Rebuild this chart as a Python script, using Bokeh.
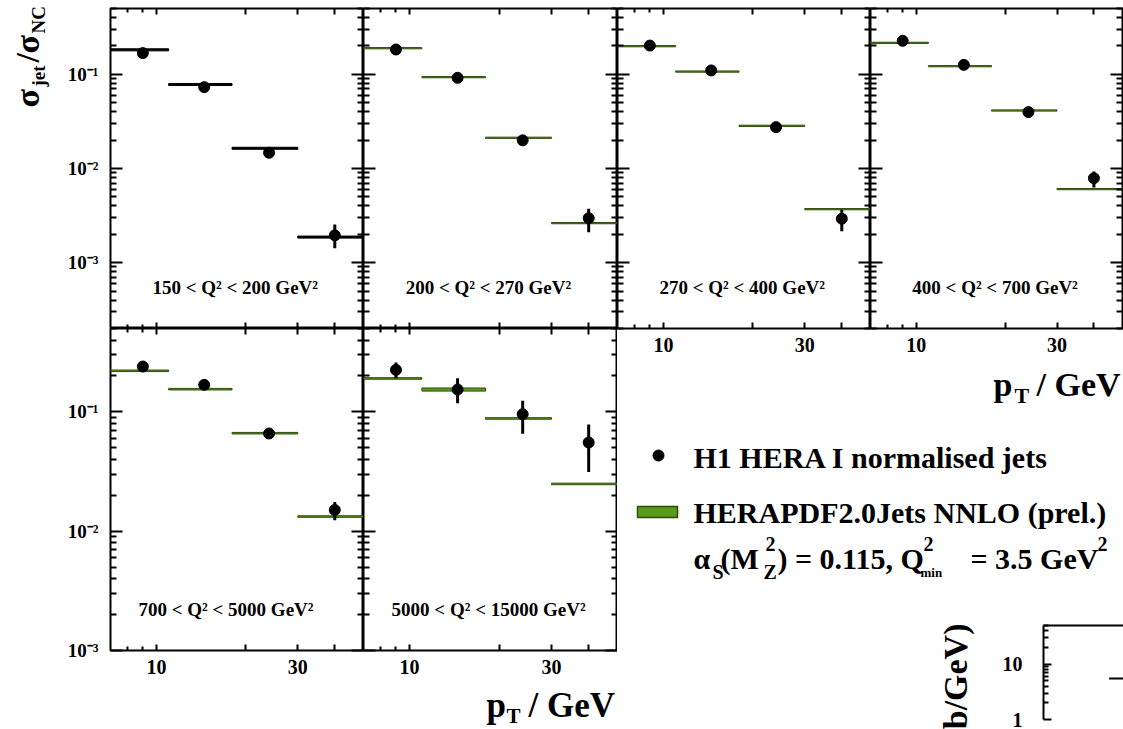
import math
from bokeh.plotting import figure
from bokeh.layouts import row, column
from bokeh.models import LogAxis, FixedTicker, Range1d
from bokeh.core.properties import value
from bokeh.embed import file_html
from bokeh.resources import INLINE

FONT = "Liberation Serif"

# ---- binning and labels -------------------------------------------------
pt_edges = [7, 11, 18, 30, 50]
pt_centres = [9, 14.5, 24, 40]

q2_bins = ["150 < Q² < 200 GeV²", "200 < Q² < 270 GeV²", "270 < Q² < 400 GeV²",
           "400 < Q² < 700 GeV²", "700 < Q² < 5000 GeV²", "5000 < Q² < 15000 GeV²"]

# ---- H1 HERA I normalised inclusive jets, sigma_jet / sigma_NC ------------
h1_150 = [0.168, 0.0731, 0.0147, 0.00195]
h1_200 = [0.1835, 0.0919, 0.0199, 0.00297]
h1_270 = [0.202, 0.110, 0.0275, 0.00293]
h1_400 = [0.227, 0.126, 0.0397, 0.0079]
h1_700 = [0.240, 0.1686, 0.0659, 0.01507]
h1_5000 = [0.225, 0.154, 0.0957, 0.0554]

h1_lo_150 = [0.005, 0.0022, 0.0005, 0.00053]
h1_hi_150 = [0.005, 0.0022, 0.0005, 0.0006]
h1_lo_200 = [0.005, 0.0027, 0.0006, 0.00086]
h1_hi_200 = [0.005, 0.0027, 0.0006, 0.00077]
h1_lo_270 = [0.006, 0.0033, 0.0009, 0.00078]
h1_hi_270 = [0.006, 0.0033, 0.0009, 0.00072]
h1_lo_400 = [0.007, 0.004, 0.0012, 0.0016]
h1_hi_400 = [0.007, 0.004, 0.0012, 0.0014]
h1_lo_700 = [0.008, 0.006, 0.0035, 0.0027]
h1_hi_700 = [0.008, 0.006, 0.0030, 0.0025]
h1_lo_5000 = [0.034, 0.036, 0.030, 0.024]
h1_hi_5000 = [0.035, 0.037, 0.028, 0.023]

# ---- HERAPDF2.0Jets NNLO predictions and relative band half-widths ---------
pdf_150 = [0.182, 0.078, 0.0164, 0.00187]
pdf_200 = [0.1894, 0.0933, 0.0212, 0.00263]
pdf_270 = [0.199, 0.107, 0.0284, 0.0037]
pdf_400 = [0.216, 0.122, 0.0413, 0.00604]
pdf_700 = [0.221, 0.155, 0.0663, 0.01327]
pdf_5000 = [0.1907, 0.154, 0.0881, 0.0249]

pdf_unc_150 = [0.025, 0.025, 0.025, 0.025]
pdf_unc_200 = [0.015, 0.015, 0.015, 0.015]
pdf_unc_270 = [0.015, 0.015, 0.015, 0.015]
pdf_unc_400 = [0.015, 0.015, 0.015, 0.015]
pdf_unc_700 = [0.015, 0.015, 0.015, 0.015]
pdf_unc_5000 = [0.015, 0.03, 0.015, 0.015]

# fragment of the neighbouring d(sigma)/dpT figure
part_edges = [11, 18]
part_vals = [5.5]

# ---- axis ticks -----------------------------------------------------------
X_RANGE = (7, 50)
TOP_Y = (2e-4, 0.5)
BOT_Y = (1e-3, 0.5)

x_major = [10, 20, 30, 40]
x_minor = [8, 9]
x_tick_text = {10: "10", 20: "", 30: "30", 40: ""}

y_major = [1e-4, 1e-3, 1e-2, 1e-1, 1.0]
y_minor = [m * d for d in [1e-4, 1e-3, 1e-2, 1e-1] for m in range(2, 10)]
y_tick_text = {1e-4: "10⁻⁴", 1e-3: "10⁻³", 1e-2: "10⁻²", 1e-1: "10⁻¹", 1.0: "1"}

part_major = [1.0, 10.0]
part_minor = [m * d for d in [1.0, 10.0] for m in range(2, 10)]
part_tick_text = {1.0: "1", 10.0: "10"}

GREEN_FILL = "#5c9a1c"
GREEN_LINE = "#2f4c0a"


def no_align(p):
    if "frame_align" in p.properties():
        p.frame_align = False
    return p


def style_axis(ax, major, minor, major_len, minor_len, labels=None, size="0px", standoff=0):
    ax.ticker = FixedTicker(ticks=major, minor_ticks=minor)
    ax.axis_line_color = None
    ax.major_tick_in = major_len
    ax.major_tick_out = 0
    ax.minor_tick_in = minor_len
    ax.minor_tick_out = 0
    ax.major_tick_line_width = 2
    ax.minor_tick_line_width = 2
    ax.major_tick_line_color = "black"
    ax.minor_tick_line_color = "black"
    ax.major_label_standoff = standoff
    ax.major_label_text_font = FONT
    ax.major_label_text_font_style = "bold"
    ax.major_label_text_font_size = size
    ax.major_label_text_color = "black"
    ax.major_label_overrides = labels if labels is not None else {t: "" for t in major}


def panel(label, data, lo, hi, pdf, pdf_unc, frame_w, frame_h, y_rng,
          left=0, right=0, top=0, bottom=0, y_text=False, x_text=False,
          band_fill=GREEN_FILL, band_line=GREEN_LINE, label_x=9.7):
    p = figure(x_axis_type="log", y_axis_type="log",
               x_range=Range1d(*X_RANGE), y_range=Range1d(*y_rng),
               frame_width=frame_w, frame_height=frame_h,
               min_border_left=left, min_border_right=right,
               min_border_top=top, min_border_bottom=bottom,
               output_backend="svg", toolbar_location=None)
    no_align(p)
    p.add_layout(LogAxis(), "above")
    p.add_layout(LogAxis(), "right")
    p.grid.visible = False
    p.outline_line_color = "black"
    p.outline_line_width = 2
    p.background_fill_color = "white"
    p.border_fill_color = "white"

    style_axis(p.below[0], x_major, x_minor, 6, 4,
               labels=x_tick_text if x_text else None,
               size="20px" if x_text else "0px", standoff=9 if x_text else 0)
    style_axis(p.above[0], x_major, x_minor, 6, 4)
    style_axis(p.left[0], y_major, y_minor, 12, 6,
               labels=y_tick_text if y_text else None,
               size="19px" if y_text else "0px", standoff=12 if y_text else 0)
    style_axis(p.right[0], y_major, y_minor, 12, 6)

    # prediction band
    p.quad(left=pt_edges[:-1], right=pt_edges[1:],
           bottom=[v * (1 - u) for v, u in zip(pdf, pdf_unc)],
           top=[v * (1 + u) for v, u in zip(pdf, pdf_unc)],
           fill_color=band_fill, line_color=band_line, line_width=1)
    # measurement
    p.segment(x0=pt_centres, x1=pt_centres,
              y0=[v - e for v, e in zip(data, lo)], y1=[v + e for v, e in zip(data, hi)],
              line_color="black", line_width=3)
    p.scatter(pt_centres, data, size=11, marker="circle", fill_color="black", line_color="black")

    # Q^2 range inside the frame, near the bottom
    p.text(x=[label_x], y=[y_rng[0]], text=[label], y_offset=-41,
           text_font=value(FONT), text_font_style="bold", text_font_size="19px",
           text_color="black", text_align="left", text_baseline="middle")
    return p


def text_canvas(w, h):
    t = figure(x_range=Range1d(0, w), y_range=Range1d(h, 0),
               frame_width=w, frame_height=h, min_border=0,
               x_axis_location=None, y_axis_location=None,
               output_backend="svg", toolbar_location=None)
    no_align(t)
    t.grid.visible = False
    t.outline_line_color = None
    t.background_fill_color = "white"
    t.border_fill_color = "white"
    return t


def put_text(t, xs, ys, texts, size, angle=0.0, align="left"):
    t.text(x=xs, y=ys, text=texts, angle=angle, text_font=value(FONT), text_font_style="bold",
           text_font_size=size, text_color="black", text_baseline="middle", text_align=align)


# ---- panels -----------------------------------------------------------------
f1 = panel(q2_bins[0], h1_150, h1_lo_150, h1_hi_150, pdf_150, pdf_unc_150, 253, 320, TOP_Y,
           left=55, top=8, y_text=True, band_fill="black", band_line="black")
f2 = panel(q2_bins[1], h1_200, h1_lo_200, h1_hi_200, pdf_200, pdf_unc_200, 254, 320, TOP_Y, top=8)
f3 = panel(q2_bins[2], h1_270, h1_lo_270, h1_hi_270, pdf_270, pdf_unc_270, 253, 320, TOP_Y,
           top=8, bottom=34, x_text=True)
f4 = panel(q2_bins[3], h1_400, h1_lo_400, h1_hi_400, pdf_400, pdf_unc_400, 252, 320, TOP_Y,
           top=8, bottom=34, right=1, x_text=True)
f5 = panel(q2_bins[4], h1_700, h1_lo_700, h1_hi_700, pdf_700, pdf_unc_700, 253, 322, BOT_Y,
           left=110, bottom=34, y_text=True, x_text=True, label_x=8.7)
f6 = panel(q2_bins[5], h1_5000, h1_lo_5000, h1_hi_5000, pdf_5000, pdf_unc_5000, 254, 322, BOT_Y,
           bottom=34, x_text=True, label_x=8.7)

# y-axis title sigma_jet / sigma_NC, rotated to read upwards
ytitle = text_canvas(55, 328)
put_text(ytitle, [27, 27, 27], [107, 62, 53], ["σ", "/", "σ"], "34px", angle=math.pi / 2)
put_text(ytitle, [38, 38], [86, 33], ["jet", "NC"], "19px", angle=math.pi / 2)

# x-axis title under the lower row
xtitle = text_canvas(617, 45)
put_text(xtitle, [486, 528], [21, 21], ["p", "/ GeV"], "35px")
put_text(xtitle, [506], [31.5], ["T"], "21px")

# ---- legend (with the x-axis title of the upper row) -----------------------
leg = text_canvas(506, 253)
put_text(leg, [376, 419], [21.5, 21.5], ["p", "/ GeV"], "34px")
put_text(leg, [397], [33], ["T"], "22px")
leg.scatter([41], [93], size=11, marker="circle", fill_color="black", line_color="black")
leg.quad(left=[20], right=[60], top=[144], bottom=[155],
         fill_color=GREEN_FILL, line_color=GREEN_LINE, line_width=1.5)
put_text(leg, [76, 76], [95, 150], ["H1 HERA I normalised jets", "HERAPDF2.0Jets NNLO (prel.)"], "30px")
put_text(leg, [76, 103, 160, 353], [196, 196, 196, 196], ["α", "(M", ") = 0.115, Q", "= 3.5 GeV"], "30px")
put_text(leg, [95, 146], [209, 209], ["S", "Z"], "20px")
put_text(leg, [148, 306, 480], [181, 181, 181], ["2", "2", "2"], "20px")
put_text(leg, [303], [210], ["min"], "13px")

# ---- neighbouring figure, left edge only ----------------------------------
part = figure(x_axis_type="log", y_axis_type="log",
              x_range=Range1d(6.6, 12.3), y_range=Range1d(1, 50),
              frame_width=80, frame_height=94,
              min_border_left=50, min_border_right=0, min_border_top=10, min_border_bottom=10,
              output_backend="svg", toolbar_location=None)
no_align(part)
part.grid.visible = False
part.outline_line_color = None
part.background_fill_color = "white"
part.border_fill_color = "white"
part.below[0].visible = False
style_axis(part.left[0], part_major, part_minor, 8, 5, labels=part_tick_text, size="20px", standoff=21)
part.left[0].axis_line_color = "black"
part.left[0].axis_line_width = 2
top_ax = LogAxis()
part.add_layout(top_ax, "above")
style_axis(top_ax, [], [], 0, 0)
top_ax.axis_line_color = "black"
top_ax.axis_line_width = 2
part.segment(x0=part_edges[:1], x1=part_edges[1:], y0=part_vals, y1=part_vals,
             line_color="black", line_width=2)

part_title = text_canvas(376, 114)
put_text(part_title, [337.5], [8], ["b/GeV)"], "34px", angle=math.pi / 2, align="right")

layout = row(column(row(ytitle, f1, f2), row(f5, f6), xtitle),
             column(row(f3, f4), leg, row(part_title, part)))

open("out.html", "w").write(file_html(layout, INLINE))
